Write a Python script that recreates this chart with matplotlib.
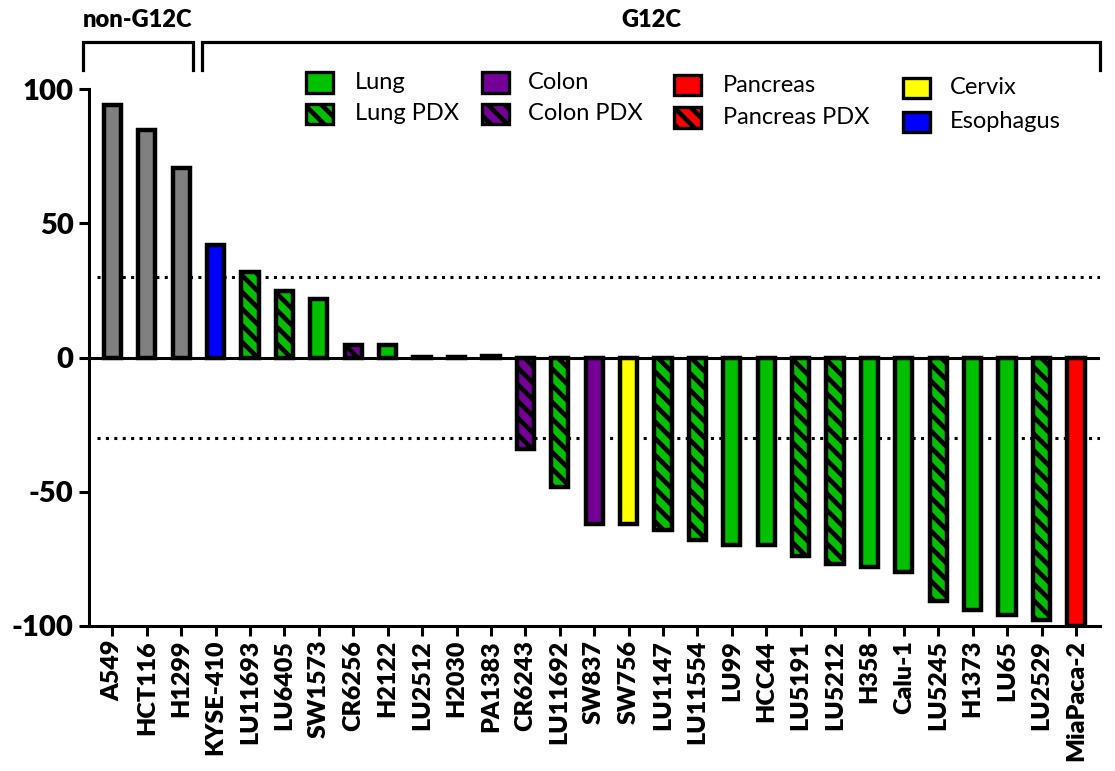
import numpy as np
import matplotlib
matplotlib.use("Agg")
import matplotlib.pyplot as plt
from matplotlib.patches import Rectangle
from matplotlib.lines import Line2D
from matplotlib.transforms import blended_transform_factory

plt.rcParams['font.family'] = ['Lato', 'DejaVu Sans']
plt.rcParams['hatch.linewidth'] = 3.4
plt.rcParams['axes.unicode_minus'] = False

# cell lines / PDX models, in plot order
names = ["A549", "HCT116", "H1299", "KYSE-410", "LU11693", "LU6405", "SW1573",
         "CR6256", "H2122", "LU2512", "H2030", "PA1383", "CR6243", "LU11692",
         "SW837", "SW756", "LU1147", "LU11554", "LU99", "HCC44", "LU5191",
         "LU5212", "H358", "Calu-1", "LU5245", "H1373", "LU65", "LU2529",
         "MiaPaca-2"]
values = [94.0, 84.8, 70.7, 41.8, 32.0, 25.0, 21.9,
          4.9, 4.9, 0.3, 0.3, 0.8, -33.9, -48.2,
          -62.0, -62.0, -64.1, -67.9, -69.9, -69.9, -74.0,
          -76.9, -78.0, -79.8, -90.8, -93.9, -95.8, -97.8,
          -100.0]
tissue = ["non-G12C", "non-G12C", "non-G12C", "Esophagus", "Lung PDX", "Lung PDX", "Lung",
          "Colon PDX", "Lung", "Lung PDX", "Lung", "Pancreas PDX", "Colon PDX", "Lung PDX",
          "Colon", "Cervix", "Lung PDX", "Lung PDX", "Lung", "Lung", "Lung PDX",
          "Lung PDX", "Lung", "Lung", "Lung PDX", "Lung", "Lung", "Lung PDX",
          "Pancreas"]

# legend entries, column by column
legend_labels = ["Lung", "Lung PDX", "Colon", "Colon PDX",
                 "Pancreas", "Pancreas PDX", "Cervix", "Esophagus"]

colors = {"Lung": "#00C000", "Colon": "#740097", "Pancreas": "#FF0000",
          "Cervix": "#FFFF00", "Esophagus": "#0000FF", "non-G12C": "#808080"}

def style(t):
    base = t.replace(" PDX", "")
    return colors[base], ("\\\\" if t.endswith("PDX") else None)

W, H = 1115, 771
fig = plt.figure(figsize=(W / 100, H / 100), dpi=100)
ax = fig.add_axes([89 / W, 1 - 626 / H, (1100 - 89) / W, (626 - 89.3) / H])

x = np.arange(len(names))
for xi, v, t in zip(x, values, tissue):
    fc, h = style(t)
    ax.bar(xi, v, width=0.5, color=fc, edgecolor="black", linewidth=3.2,
           hatch=h, zorder=3)

ax.axhline(0, color="black", lw=2.2, zorder=4)
for yv in (30, -30):
    ax.plot([-0.45, 28.7], [yv, yv], color="black", lw=2.2,
            linestyle=(0, (1, 1.75)), zorder=1)

ax.set_xlim(-0.68, 28.7)
ax.set_ylim(-100, 100)
ax.set_yticks([-100, -50, 0, 50, 100])
ax.set_xticks(x)
ax.set_xticklabels(names, rotation=90, fontsize=18, fontweight="heavy")
for lab in ax.get_yticklabels():
    lab.set_fontsize(21)
    lab.set_fontweight("heavy")
ax.tick_params(axis="both", length=7, width=2.2, color="black")
ax.tick_params(axis="x", pad=3)
ax.tick_params(axis="y", pad=4)
for s in ("top", "right"):
    ax.spines[s].set_visible(False)
for s in ("left", "bottom"):
    ax.spines[s].set_linewidth(2.2)

# group brackets above the plot
tr = blended_transform_factory(ax.transData, fig.transFigure)
def fy(py):
    return 1 - py / H

def bracket(x0, x1, label, xl):
    pts_x = [x0, x0, x1, x1]
    pts_y = [fy(70), fy(41.7), fy(41.7), fy(70)]
    fig.add_artist(Line2D(pts_x, pts_y, transform=tr, color="black", lw=2.3,
                          solid_joinstyle="miter"))
    fig.text(xl, fy(20), label, transform=tr, ha="center", va="center",
             fontsize=17, fontweight="heavy")

bracket(-0.86, 2.34, "non-G12C", 0.74)
bracket(2.61, 28.7, "G12C", 15.65)

# legend drawn by hand
col_x = [306, 482, 674, 903]
col_text_x = [355, 528, 723, 950]
row_y = [[82.5, 114], [82.5, 114], [85, 117.5], [88, 122]]
for i, lab in enumerate(legend_labels):
    c, r = divmod(i, 2)
    fc, h = style(lab)
    cy = row_y[c][r]
    w, hh = 27, 20
    fig.add_artist(Rectangle((col_x[c] / W, fy(cy + hh / 2)), w / W, hh / H,
                             transform=fig.transFigure, facecolor=fc,
                             edgecolor="black", lw=2.4, hatch=h))
    fig.text(col_text_x[c] / W, fy(cy), lab, ha="left", va="center",
             fontsize=17)

fig.savefig("out.png", dpi=100)
